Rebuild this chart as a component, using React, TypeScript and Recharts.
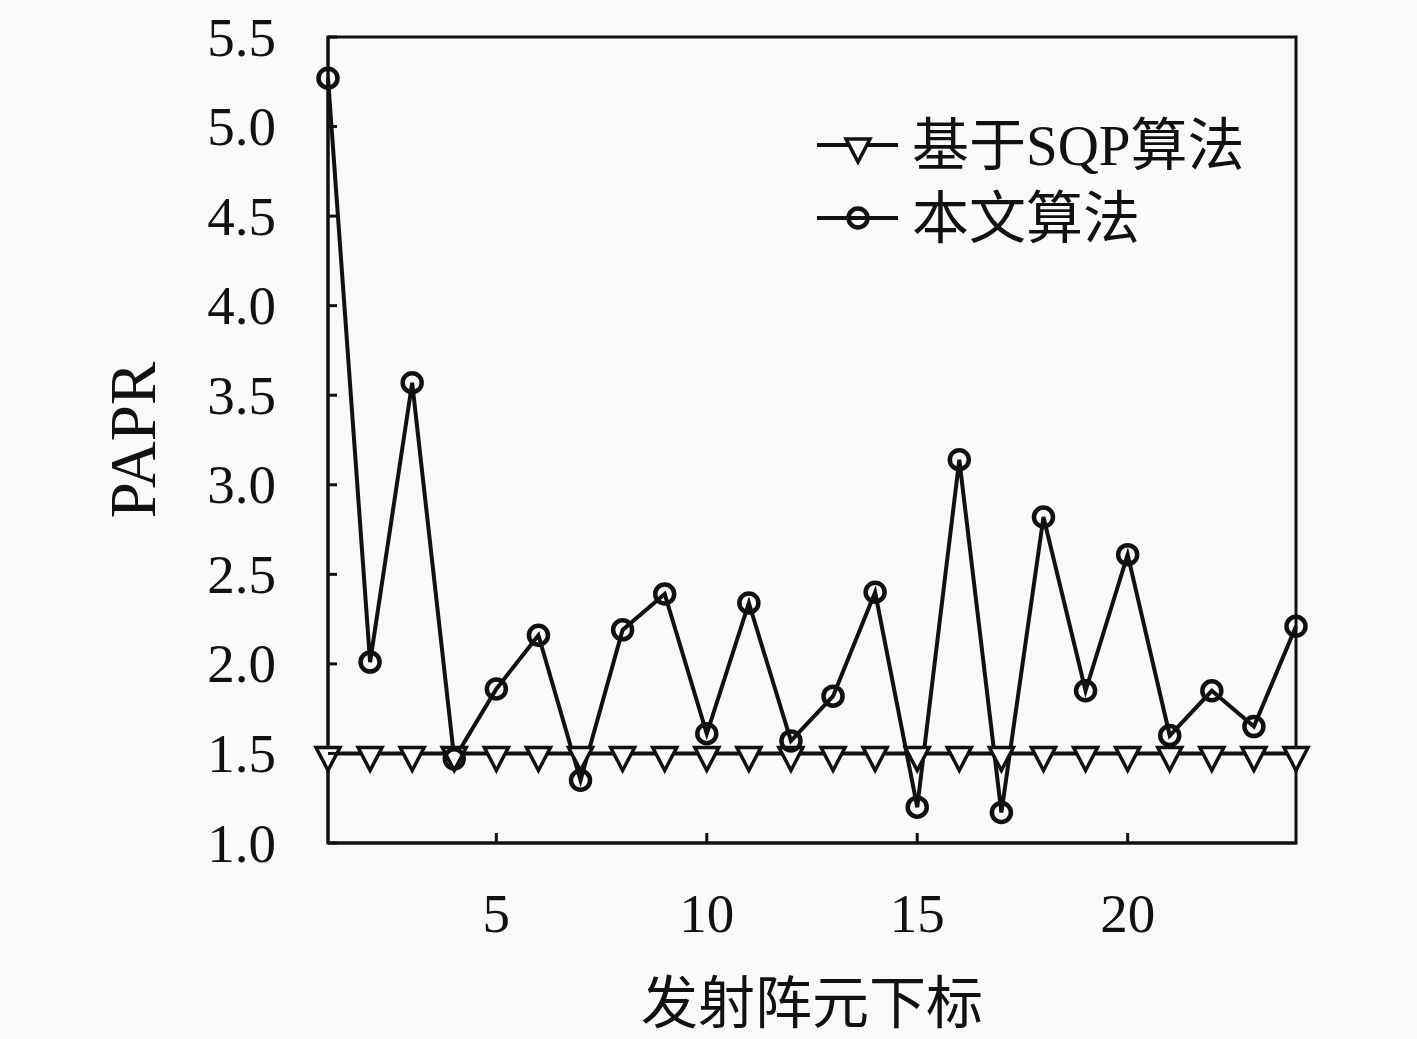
import React from 'react';
import {
  LineChart,
  Line,
  XAxis,
  YAxis,
  ReferenceArea
} from 'recharts';

// element index along the transmit array
const elementIndex = [1, 2, 3, 4, 5, 6, 7, 8, 9, 10, 11, 12, 13, 14, 15, 16, 17, 18, 19, 20, 21, 22, 23, 24];
// PAPR per element, SQP based method
const sqpPapr = [1.5, 1.5, 1.5, 1.5, 1.5, 1.5, 1.5, 1.5, 1.5, 1.5, 1.5, 1.5, 1.5, 1.5, 1.5, 1.5, 1.5, 1.5, 1.5, 1.5, 1.5, 1.5, 1.5, 1.5];
// PAPR per element, proposed method
const proposedPapr = [5.27, 2.01, 3.57, 1.47, 1.86, 2.16, 1.35, 2.19, 2.39, 1.61, 2.34, 1.57, 1.82, 2.40, 1.20, 3.14, 1.17, 2.82, 1.85, 2.61, 1.60, 1.85, 1.65, 2.21];

const xTicks = [5, 10, 15, 20];
const yTicks = [1.0, 1.5, 2.0, 2.5, 3.0, 3.5, 4.0, 4.5, 5.0, 5.5];

const seriesNames = ['基于SQP算法', '本文算法'];

const data = elementIndex.map((x, i) => ({ x, sqp: sqpPapr[i], ours: proposedPapr[i] }));

const BG = '#f9f9f9';
const INK = '#111';
const LATIN = '"Liberation Serif", "Noto Sans CJK SC", serif';

const TriangleDot = (props: any) => {
  const { cx, cy } = props;
  if (cx == null || cy == null) return null;
  return (
    <path
      d={`M${cx - 12},${cy - 6} L${cx + 12},${cy - 6} L${cx},${cy + 17} Z`}
      fill={BG}
      stroke={INK}
      strokeWidth={3.5}
      strokeLinejoin="miter"
    />
  );
};

const CircleDot = (props: any) => {
  const { cx, cy } = props;
  if (cx == null || cy == null) return null;
  return <circle cx={cx} cy={cy} r={9.5} fill="none" stroke={INK} strokeWidth={4.5} />;
};

const YTick = (props: any) => {
  const { x, y, payload } = props;
  return (
    <g>
      <line x1={x} y1={y} x2={x + 9} y2={y} stroke={INK} strokeWidth={3} />
      <text x={x - 52} y={y} textAnchor="end" dominantBaseline="central" fontSize={55} fontFamily={LATIN} fill={INK}>
        {Number(payload.value).toFixed(1)}
      </text>
    </g>
  );
};

const XTick = (props: any) => {
  const { x, y, payload } = props;
  return (
    <g>
      <line x1={x} y1={y} x2={x} y2={y - 10} stroke={INK} strokeWidth={3} />
      <text x={x} y={y + 70} textAnchor="middle" dominantBaseline="central" fontSize={55} fontFamily={LATIN} fill={INK}>
        {payload.value}
      </text>
    </g>
  );
};

const LegendBox = () => (
  <svg width={480} height={150} style={{ position: 'absolute', left: 810, top: 110 }}>
    {seriesNames.map((name, i) => {
      const cy = 35 + i * 73;
      return (
        <g key={name}>
          <line x1={7} y1={cy} x2={88} y2={cy} stroke={INK} strokeWidth={4} />
          {i === 0 ? <TriangleDot cx={48} cy={cy} /> : <CircleDot cx={48} cy={cy} />}
          <text x={102} y={cy} dominantBaseline="central" fontSize={57} fontFamily={LATIN} fill={INK}>
            {name}
          </text>
        </g>
      );
    })}
  </svg>
);

export default function App() {
  return (
    <div style={{ position: 'absolute', left: 0, top: 0, width: 1417, height: 1039, background: BG }}>
      <LineChart width={1417} height={1039} data={data} margin={{ top: 37, right: 121, bottom: 0, left: 0 }}>
        <XAxis
          dataKey="x"
          type="number"
          domain={[1, 24]}
          ticks={xTicks}
          tick={<XTick />}
          tickSize={0}
          tickMargin={0}
          height={196}
          axisLine={{ stroke: INK, strokeWidth: 3 }}
          tickLine={false}
          label={{ value: '发射阵元下标', position: 'insideBottom', offset: 16, fontSize: 57, fill: INK, fontFamily: LATIN }}
        />
        <YAxis
          type="number"
          domain={[1, 5.5]}
          ticks={yTicks}
          tick={<YTick />}
          tickSize={0}
          tickMargin={0}
          width={328}
          axisLine={{ stroke: INK, strokeWidth: 3 }}
          tickLine={false}
          label={{ value: 'PAPR', angle: -90, position: 'insideLeft', offset: 132, textAnchor: 'middle', fontSize: 65, fill: INK, fontFamily: LATIN }}
        />
        <ReferenceArea x1={1} x2={24} y1={1} y2={5.5} fill="none" stroke={INK} strokeWidth={3} ifOverflow="visible" />
        <Line
          dataKey="sqp"
          name={seriesNames[0]}
          stroke={INK}
          strokeWidth={4}
          dot={<TriangleDot />}
          activeDot={false}
          isAnimationActive={false}
        />
        <Line
          dataKey="ours"
          name={seriesNames[1]}
          stroke={INK}
          strokeWidth={4}
          dot={<CircleDot />}
          activeDot={false}
          isAnimationActive={false}
        />
      </LineChart>
      <LegendBox />
    </div>
  );
}
